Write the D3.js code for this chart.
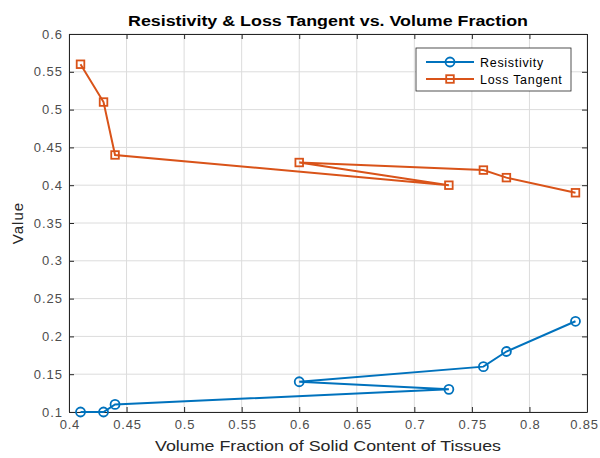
<!DOCTYPE html>
<html>
<head>
<meta charset="utf-8">
<script src="https://cdn.jsdelivr.net/npm/d3@7"></script>
<style>
  body { margin: 0; background: #fff; }
  svg text { font-family: "Liberation Sans", Arial, sans-serif; }
</style>
</head>
<body>
<svg id="chart" width="600" height="458"></svg>
<script>
// --- data
const volumeFraction = [0.41, 0.43, 0.44, 0.73, 0.60, 0.76, 0.78, 0.84];
const resistivity = [0.10, 0.10, 0.11, 0.13, 0.14, 0.16, 0.18, 0.22];
const lossTangent = [0.56, 0.51, 0.44, 0.40, 0.43, 0.42, 0.41, 0.39];
const xTicks = [0.4, 0.45, 0.5, 0.55, 0.6, 0.65, 0.7, 0.75, 0.8, 0.85];
const yTicks = [0.1, 0.15, 0.2, 0.25, 0.3, 0.35, 0.4, 0.45, 0.5, 0.55, 0.6];

const BLUE = '#0072BD';
const ORANGE = '#D95319';

const margin = { left: 69, right: 13, top: 34, bottom: 46 };
const width = 600, height = 458;

const svg = d3.select('#chart');

const x = d3.scaleLinear().domain([0.4, 0.85]).range([margin.left, width - margin.right]);
const y = d3.scaleLinear().domain([0.1, 0.6]).range([height - margin.bottom, margin.top]);

// --- grid
const grid = svg.append('g').attr('class', 'grid');
grid.selectAll('line.gx')
    .data(xTicks)
    .enter()
    .append('line')
    .attr('x1', d => x(d)).attr('x2', d => x(d))
    .attr('y1', y(0.1)).attr('y2', y(0.6))
    .attr('stroke', '#dcdcdc').attr('stroke-width', 1);
grid.selectAll('line.gy')
    .data(yTicks)
    .enter()
    .append('line')
    .attr('x1', x(0.4)).attr('x2', x(0.85))
    .attr('y1', d => y(d)).attr('y2', d => y(d))
    .attr('stroke', '#dcdcdc').attr('stroke-width', 1);

// --- axes (ticks inward, box)
const fmt = d => d3.format('')(+d.toFixed(2));
const lastX = xTicks[xTicks.length - 1];

svg.append('g')
    .attr('transform', `translate(0, ${y(0.1)})`)
    .call(d3.axisBottom(x).tickValues(xTicks).tickFormat(fmt).tickSizeInner(-5).tickSizeOuter(0).tickPadding(8))
    .call(g => g.selectAll('text')
        .attr('font-size', 13).attr('fill', '#4d4d4d')
        .attr('letter-spacing', 0.8)
        .attr('dx', d => d === lastX ? -3 : 0.4));
svg.append('g')
    .attr('transform', `translate(0, ${y(0.6)})`)
    .call(d3.axisTop(x).tickValues(xTicks).tickFormat('').tickSizeInner(-5).tickSizeOuter(0));
svg.append('g')
    .attr('transform', `translate(${x(0.4)}, 0)`)
    .call(d3.axisLeft(y).tickValues(yTicks).tickFormat(fmt).tickSizeInner(-5).tickSizeOuter(0).tickPadding(6))
    .call(g => g.selectAll('text')
        .attr('font-size', 13).attr('fill', '#4d4d4d')
        .attr('letter-spacing', 1));
svg.append('g')
    .attr('transform', `translate(${x(0.85)}, 0)`)
    .call(d3.axisRight(y).tickValues(yTicks).tickFormat('').tickSizeInner(-5).tickSizeOuter(0));

svg.selectAll('.domain').attr('stroke', '#262626');
svg.selectAll('.tick line').attr('stroke', '#262626');

// --- series
const seriesList = [
    { name: 'Resistivity', values: resistivity, color: BLUE, marker: 'circle' },
    { name: 'Loss Tangent', values: lossTangent, color: ORANGE, marker: 'square' }
];

const lineFn = d3.line()
    .x(d => x(d[0]))
    .y(d => y(d[1]));

function drawMarker(sel, type, color) {
    if (type === 'circle') {
        sel.append('circle')
            .attr('r', 4.5)
            .attr('fill', 'none')
            .attr('stroke', color)
            .attr('stroke-width', 1.8);
    } else {
        sel.append('rect')
            .attr('x', -3.8).attr('y', -3.8)
            .attr('width', 7.6).attr('height', 7.6)
            .attr('fill', 'none')
            .attr('stroke', color)
            .attr('stroke-width', 1.8);
    }
}

seriesList.forEach(s => {
    const pts = volumeFraction.map((v, i) => [v, s.values[i]]);
    svg.append('path')
        .datum(pts)
        .attr('fill', 'none')
        .attr('stroke', s.color)
        .attr('stroke-width', 2)
        .attr('d', lineFn);
    svg.append('g')
        .selectAll('g')
        .data(pts)
        .enter()
        .append('g')
        .attr('transform', d => `translate(${x(d[0])}, ${y(d[1])})`)
        .each(function () { drawMarker(d3.select(this), s.marker, s.color); });
});

// --- title and labels
const midX = (x(0.4) + x(0.85)) / 2;

svg.append('text')
    .attr('x', midX - 200)
    .attr('y', 26)
    .attr('font-size', 14)
    .attr('font-weight', 'bold')
    .attr('fill', '#000')
    .attr('textLength', 400)
    .attr('lengthAdjust', 'spacingAndGlyphs')
    .text('Resistivity & Loss Tangent vs. Volume Fraction');

svg.append('text')
    .attr('x', midX - 173)
    .attr('y', 451)
    .attr('font-size', 15)
    .attr('fill', '#262626')
    .attr('textLength', 346)
    .attr('lengthAdjust', 'spacingAndGlyphs')
    .text('Volume Fraction of Solid Content of Tissues');

svg.append('text')
    .attr('transform', `translate(23, ${(y(0.1) + y(0.6)) / 2}) rotate(-90)`)
    .attr('text-anchor', 'middle')
    .attr('font-size', 15)
    .attr('letter-spacing', 1)
    .attr('fill', '#262626')
    .text('Value');

// --- legend
const legend = svg.append('g').attr('transform', 'translate(416, 48)');
legend.append('rect')
    .attr('width', 155).attr('height', 43)
    .attr('fill', '#fff')
    .attr('stroke', '#262626')
    .attr('stroke-width', 0.8);
seriesList.forEach((s, i) => {
    const row = legend.append('g').attr('transform', `translate(0, ${14 + i * 17})`);
    row.append('line')
        .attr('x1', 10).attr('x2', 58)
        .attr('stroke', s.color).attr('stroke-width', 2);
    const m = row.append('g').attr('transform', 'translate(34, 0)');
    drawMarker(m, s.marker, s.color);
    row.append('text')
        .attr('x', 64).attr('y', 4.5)
        .attr('font-size', 12.5)
        .attr('letter-spacing', 0.7)
        .attr('fill', '#000')
        .text(s.name);
});
</script>
</body>
</html>
